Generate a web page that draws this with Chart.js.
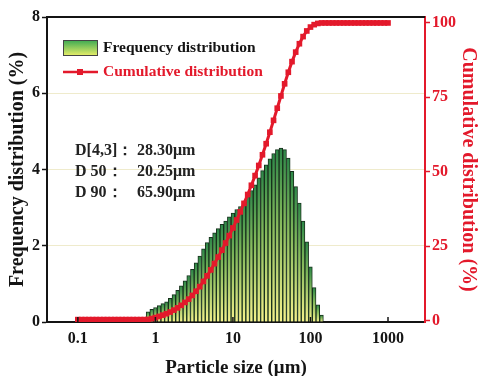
<!DOCTYPE html>
<html>
<head>
<meta charset="utf-8">
<script src="https://cdn.jsdelivr.net/npm/chart.js@4.4.1/dist/chart.umd.min.js"></script>
<style>
  html, body { margin: 0; padding: 0; background: #fff; }
  canvas { display: block; }
</style>
</head>
<body>
<canvas id="psd" width="481" height="376"></canvas>
<script>
// particle size bins (um), 21 per decade from 0.1 to 1000
const sizes = [
  0.1, 0.1116, 0.1245, 0.1389, 0.1551, 0.1730, 0.1931, 0.2154, 0.2404, 0.2683, 0.2994,
  0.3341, 0.3728, 0.4160, 0.4642, 0.5179, 0.5780, 0.6450, 0.7197, 0.8031, 0.8962,
  1, 1.116, 1.245, 1.389, 1.551, 1.730, 1.931, 2.154, 2.404, 2.683, 2.994,
  3.341, 3.728, 4.160, 4.642, 5.179, 5.780, 6.450, 7.197, 8.031, 8.962,
  10, 11.16, 12.45, 13.89, 15.51, 17.30, 19.31, 21.54, 24.04, 26.83, 29.94,
  33.41, 37.28, 41.60, 46.42, 51.79, 57.80, 64.50, 71.97, 80.31, 89.62,
  100, 111.6, 124.5, 138.9, 155.1, 173.0, 193.1, 215.4, 240.4, 268.3, 299.4,
  334.1, 372.8, 416.0, 464.2, 517.9, 578.0, 645.0, 719.7, 803.1, 896.2,
  1000
];
// frequency distribution (%)
const frequency = [
  null, null, null, null, null, null, null, null, null, null, null,
  null, null, null, null, null, null, null, 0.12, 0.27, 0.33,
  0.38, 0.43, 0.48, 0.53, 0.62, 0.72, 0.83, 0.95, 1.08, 1.22, 1.38,
  1.55, 1.73, 1.92, 2.08, 2.22, 2.34, 2.45, 2.56, 2.65, 2.76,
  2.86, 2.95, 3.03, 3.15, 3.30, 3.45, 3.60, 3.78, 3.97, 4.12, 4.28,
  4.42, 4.52, 4.56, 4.52, 4.30, 3.95, 3.55, 3.12, 2.65, 2.10,
  1.45, 0.90, 0.45, 0.18, null, null, null, null, null, null, null,
  null, null, null, null, null, null, null, null, null, null,
  null
];
// cumulative distribution (%)
const cumulative = [
  0.3, 0.3, 0.3, 0.3, 0.3, 0.3, 0.3, 0.3, 0.3, 0.3, 0.3,
  0.3, 0.3, 0.3, 0.3, 0.3, 0.3, 0.3, 0.3, 0.35, 0.65,
  0.99, 1.38, 1.81, 2.29, 2.85, 3.50, 4.25, 5.11, 6.09, 7.19, 8.43,
  9.83, 11.39, 13.13, 15.01, 17.01, 19.12, 21.33, 23.65, 26.04, 28.53,
  31.11, 33.78, 36.51, 39.36, 42.34, 45.45, 48.70, 52.11, 55.70, 59.42, 63.28,
  67.27, 71.35, 75.47, 79.55, 83.43, 87.00, 90.20, 93.02, 95.41, 97.31,
  98.62, 99.43, 99.84, 100, 100, 100, 100, 100, 100, 100, 100,
  100, 100, 100, 100, 100, 100, 100, 100, 100, 100,
  100
];
const xTicks = [0.1, 1, 10, 100, 1000];
const leftTicks = [0, 2, 4, 6, 8];
const rightTicks = [0, 25, 50, 75, 100];
const seriesNames = ['Frequency distribution', 'Cumulative distribution'];
const statNames = ['D[4,3]：', 'D 50：', 'D 90：'];
const statValues = ['28.30μm', '20.25μm', '65.90μm'];

const RED = '#e3192b';
const INK = '#141414';
const SERIF = '"Liberation Serif", "Times New Roman", serif';
Chart.defaults.font.family = SERIF;

const tickFont = { family: SERIF, size: 16, weight: 'bold' };

function barFill(c) {
  const chart = c.chart;
  if (!chart.chartArea || !c.parsed) return '#7ab55a';
  const y = chart.scales.y;
  const top = y.getPixelForValue(c.parsed.y);
  const bottom = y.getPixelForValue(0);
  if (!(bottom > top)) return '#7ab55a';
  const g = chart.ctx.createLinearGradient(0, top, 0, bottom);
  g.addColorStop(0, '#2c8848');
  g.addColorStop(0.4, '#80b75a');
  g.addColorStop(1, '#f6f28c');
  return g;
}

const decor = {
  id: 'decor',
  afterDraw(chart) {
    const { ctx, chartArea: a, scales } = chart;
    ctx.save();
    // top frame line
    ctx.strokeStyle = INK;
    ctx.lineWidth = 2;
    ctx.beginPath();
    ctx.moveTo(a.left - 1, a.top);
    ctx.lineTo(a.right, a.top);
    ctx.stroke();
    // inward x ticks
    ctx.lineWidth = 1.5;
    xTicks.forEach(v => {
      const px = scales.x.getPixelForValue(v);
      ctx.beginPath();
      ctx.moveTo(px, a.bottom);
      ctx.lineTo(px, a.bottom - 5);
      ctx.stroke();
    });

    // legend
    const sw = ctx.createLinearGradient(0, 40, 0, 56);
    sw.addColorStop(0, '#3aa852');
    sw.addColorStop(1, '#ecf06a');
    ctx.fillStyle = sw;
    ctx.fillRect(63, 40, 35, 16);
    ctx.strokeStyle = '#444';
    ctx.lineWidth = 1;
    ctx.strokeRect(63.5, 40.5, 34, 15);

    ctx.strokeStyle = RED;
    ctx.lineWidth = 2.5;
    ctx.beginPath();
    ctx.moveTo(63, 72);
    ctx.lineTo(98, 72);
    ctx.stroke();
    ctx.fillStyle = RED;
    ctx.fillRect(77, 69, 6, 6);

    ctx.font = 'bold 15.5px ' + SERIF;
    ctx.textBaseline = 'middle';
    ctx.textAlign = 'left';
    ctx.fillStyle = INK;
    ctx.fillText(seriesNames[0], 103, 48);
    ctx.fillStyle = RED;
    ctx.fillText(seriesNames[1], 103, 72);

    // statistics
    ctx.font = 'bold 16px ' + SERIF;
    ctx.fillStyle = '#222';
    statNames.forEach((s, i) => {
      const yy = 151 + i * 21;
      ctx.fillText(s, 75, yy);
      ctx.fillText(statValues[i], 137, yy);
    });
    ctx.restore();
  }
};

new Chart(document.getElementById('psd'), {
  type: 'bar',
  data: {
    datasets: [
      {
        type: 'line',
        label: seriesNames[1],
        data: sizes.map((s, i) => ({ x: s, y: cumulative[i] })),
        yAxisID: 'y2',
        borderColor: RED,
        borderWidth: 3,
        pointStyle: 'rect',
        pointRadius: 4,
        pointBorderWidth: 0,
        pointBackgroundColor: RED,
        tension: 0,
        order: 1
      },
      {
        type: 'bar',
        label: seriesNames[0],
        data: sizes.map((s, i) => ({ x: s, y: frequency[i] })).filter(p => p.y !== null),
        yAxisID: 'y',
        backgroundColor: barFill,
        borderColor: '#17301c',
        borderWidth: 1,
        barPercentage: 1,
        categoryPercentage: 1,
        order: 2
      }
    ]
  },
  options: {
    responsive: false,
    animation: false,
    devicePixelRatio: 1,
    layout: { padding: { top: 17, left: 0, right: 0, bottom: 0 } },
    plugins: {
      legend: { display: false },
      tooltip: { enabled: false }
    },
    scales: {
      x: {
        type: 'logarithmic',
        min: 0.04,
        max: 3000,
        offset: false,
        afterBuildTicks: ax => { ax.ticks = xTicks.map(v => ({ value: v })); },
        afterFit: ax => { ax.height = 54; },
        grid: { display: true, drawOnChartArea: false, drawTicks: false, offset: false },
        border: { color: INK, width: 2 },
        ticks: {
          color: INK, font: tickFont, padding: 7, maxRotation: 0, autoSkip: false,
          callback: v => String(v)
        },
        title: {
          display: true, text: 'Particle size (μm)', color: INK,
          font: { family: SERIF, size: 19, weight: 'bold', lineHeight: 1 },
          padding: { top: 0, bottom: -2 }
        }
      },
      y: {
        position: 'left',
        min: 0,
        max: 8,
        afterBuildTicks: ax => { ax.ticks = leftTicks.map(v => ({ value: v })); },
        afterFit: ax => { ax.width = 47; },
        grid: { color: 'rgba(228,222,170,0.6)', lineWidth: 1, tickColor: INK, tickLength: 5, tickWidth: 1.5 },
        border: { color: INK, width: 2 },
        ticks: { color: INK, font: tickFont, padding: 2 },
        title: {
          display: true, text: 'Frequency distribution (%)', color: INK,
          font: { family: SERIF, size: 20, weight: 'bold', lineHeight: 1.2 },
          padding: { top: 6, bottom: 0 }
        }
      },
      y2: {
        position: 'right',
        min: -0.5,
        max: 102,
        afterBuildTicks: ax => { ax.ticks = rightTicks.map(v => ({ value: v })); },
        afterFit: ax => { ax.width = 56; },
        grid: { drawOnChartArea: false, tickColor: RED, tickLength: 5, tickWidth: 1.5 },
        border: { color: RED, width: 2 },
        ticks: { color: RED, font: tickFont, padding: 2 },
        title: {
          display: true, text: 'Cumulative distribution (%)', color: RED,
          font: { family: SERIF, size: 20, weight: 'bold', lineHeight: 1.2 },
          padding: { top: 1, bottom: 0 }
        }
      }
    }
  },
  plugins: [decor]
});
</script>
</body>
</html>
